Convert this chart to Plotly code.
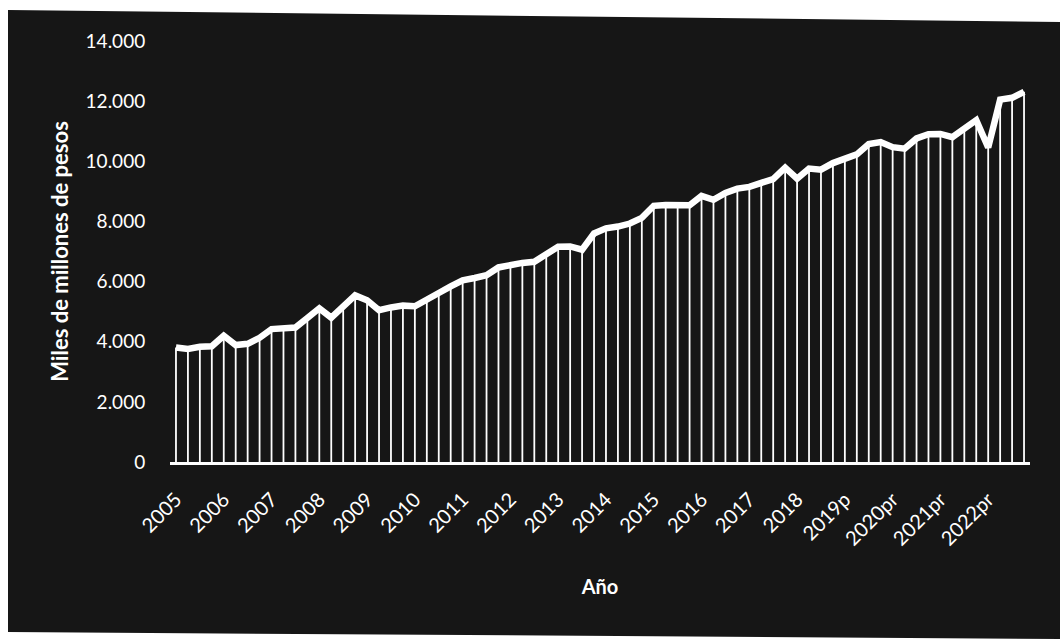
import plotly.graph_objects as go

# Quarterly values 2005 Q1 .. 2022 Q4 (miles de millones de pesos)
valores = [
    3810, 3760, 3830, 3850,
    4200, 3890, 3930, 4130,
    4420, 4450, 4470, 4790,
    5110, 4800, 5140, 5540,
    5380, 5050, 5140, 5200,
    5180, 5380, 5620, 5840,
    6040, 6120, 6210, 6470,
    6560, 6620, 6660, 6910,
    7160, 7170, 7060, 7600,
    7770, 7830, 7930, 8120,
    8520, 8550, 8550, 8540,
    8850, 8720, 8950, 9090,
    9150, 9260, 9410, 9790,
    9420, 9760, 9720, 9940,
    10080, 10230, 10570, 10640,
    10470, 10420, 10760, 10900,
    10910, 10800, 11090, 11370,
    10460, 12050, 12110, 12310,
]
anios = ["2005", "2006", "2007", "2008", "2009", "2010", "2011", "2012", "2013",
         "2014", "2015", "2016", "2017", "2018", "2019p", "2020pr", "2021pr", "2022pr"]
y_ticks = [0, 2000, 4000, 6000, 8000, 10000, 12000, 14000]

x = list(range(len(valores)))
tick_pos = [i * 4 for i in range(len(anios))]

# drop lines from each point down to zero
dx, dy = [], []
for xi, v in zip(x, valores):
    dx += [xi, xi, None]
    dy += [0, v, None]

FONT = "Lato"
fig = go.Figure()
fig.add_trace(go.Scatter(x=dx, y=dy, mode="lines",
                         line=dict(color="white", width=1.8),
                         hoverinfo="skip", showlegend=False))
fig.add_trace(go.Scatter(x=x, y=valores, mode="lines",
                         line=dict(color="white", width=6.5),
                         showlegend=False))

# dark scanned background area (decorative)
def px(xp):
    return (xp - 170) / 860
def py(yp):
    return (462 - yp) / 421
path = "M {},{} L {},{} L {},{} L {},{} Z".format(
    px(8), py(10), px(1060), py(22), px(1060), py(639), px(8), py(632))
fig.add_shape(type="path", path=path, xref="paper", yref="paper",
              fillcolor="#161616", line=dict(width=0), layer="below")

fig.update_layout(
    width=1060, height=639,
    margin=dict(l=170, r=30, t=41, b=177),
    paper_bgcolor="white",
    plot_bgcolor="rgba(0,0,0,0)",
    separators=",.",
    font=dict(family=FONT, color="white", size=18),
    xaxis=dict(
        range=[-0.5, len(valores) - 0.5],
        tickmode="array", tickvals=tick_pos, ticktext=anios,
        tickangle=-45, showgrid=False, zeroline=False,
        showline=True, linecolor="white", linewidth=3,
        ticks="outside", ticklen=15, tickcolor="rgba(0,0,0,0)",
        tickfont=dict(size=20, color="white", family=FONT),
        title=dict(text="<b>Año</b>", font=dict(size=20, color="white", family=FONT), standoff=32),
    ),
    yaxis=dict(
        range=[0, 14000], tickvals=y_ticks, tickformat=",d",
        showgrid=False, zeroline=False, showline=False,
        ticks="outside", ticklen=20, tickcolor="rgba(0,0,0,0)",
        tickfont=dict(size=19, color="white", family=FONT),
        title=dict(text="<b>Miles de millones de pesos</b>",
                   font=dict(size=22, color="white", family=FONT), standoff=10),
    ),
)

fig.write_html("out.html", config={"displayModeBar": False},
               post_script="document.body.style.margin='0px';document.body.style.overflow='hidden';")
